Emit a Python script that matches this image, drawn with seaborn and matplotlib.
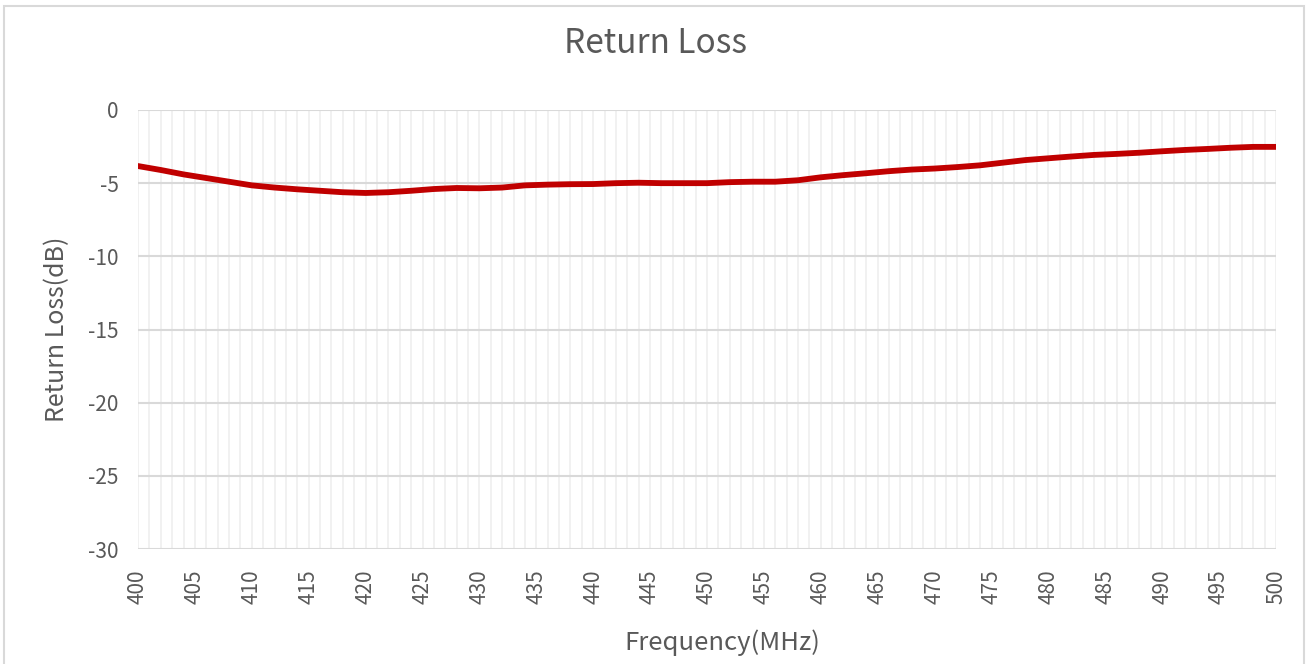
import matplotlib
matplotlib.use('Agg')
import matplotlib.pyplot as plt
import matplotlib.patches as mpatches
import pandas as pd
import seaborn as sns

# frequency (MHz) and return loss (dB)
freq = [400, 402, 404, 406, 408, 410, 412, 414, 416, 418, 420, 422, 424, 426, 428,
        430, 432, 434, 436, 438, 440, 442, 444, 446, 448, 450, 452, 454, 456, 458,
        460, 462, 464, 466, 468, 470, 472, 474, 476, 478, 480, 482, 484, 486, 488,
        490, 492, 494, 496, 498, 500]
loss = [-3.83, -4.10, -4.40, -4.65, -4.90, -5.15, -5.30, -5.42, -5.52, -5.62, -5.67,
        -5.62, -5.52, -5.40, -5.33, -5.35, -5.30, -5.15, -5.10, -5.07, -5.06, -5.00,
        -4.97, -5.00, -5.00, -5.00, -4.93, -4.90, -4.90, -4.80, -4.60, -4.45, -4.32,
        -4.18, -4.07, -4.00, -3.90, -3.78, -3.60, -3.42, -3.30, -3.18, -3.07, -3.00,
        -2.92, -2.82, -2.73, -2.66, -2.58, -2.52, -2.52]
x_ticks = list(range(400, 501, 5))
y_ticks = [0, -5, -10, -15, -20, -25, -30]

df = pd.DataFrame({'Frequency': freq, 'ReturnLoss': loss})

sns.set_theme(style='white')
plt.rcParams['font.family'] = ['Noto Sans CJK SC', 'DejaVu Sans']
plt.rcParams['axes.unicode_minus'] = False
grey = '#595959'

fig = plt.figure(figsize=(13.07, 6.64), dpi=100)
ax = fig.add_axes([138 / 1307, 1 - 549 / 664, (1276 - 138) / 1307, (549 - 110) / 664])

# light vertical grid every 1 MHz, horizontal major grid every 5 dB
for f in range(400, 501):
    ax.axvline(f, color='#EFEFEF', lw=1.2, zorder=0)
for v in y_ticks:
    ax.axhline(v, color='#D9D9D9', lw=1.5, zorder=1)

sns.lineplot(data=df, x='Frequency', y='ReturnLoss', ax=ax, color='#C00000',
             lw=4.2, zorder=3)

ax.set_xlim(400, 500)
ax.set_ylim(-30, 0)
ax.set_xticks(x_ticks)
ax.set_xticklabels([str(t) for t in x_ticks], rotation=90)
ax.set_yticks(y_ticks)
ax.set_yticklabels([str(t) for t in y_ticks])
ax.tick_params(axis='both', length=0, labelsize=15, labelcolor=grey)
ax.tick_params(axis='x', pad=15)
ax.tick_params(axis='y', pad=14)
for s in ax.spines.values():
    s.set_visible(False)

ax.set_xlabel('Frequency(MHz)', fontsize=18.5, color=grey, va='center')
ax.set_ylabel('Return Loss(dB)', fontsize=18, color=grey, va='center')
ax.xaxis.set_label_coords((722 - 138) / 1138, -(643 - 549) / 439)
ax.yaxis.set_label_coords((57 - 138) / 1138, 0.5)
ax.set_title('Return Loss', fontsize=24, color=grey, va='center',
             x=(655 - 138) / 1138, y=1 + (110 - 52) / 439)

fig.patches.append(mpatches.Rectangle((4 / 1307, -0.02), 1300 / 1307, 1 - 6 / 664 + 0.02,
                                      transform=fig.transFigure, fill=False,
                                      edgecolor='#D9D9D9', lw=1.5, zorder=0))

fig.savefig('out.png', dpi=100)
